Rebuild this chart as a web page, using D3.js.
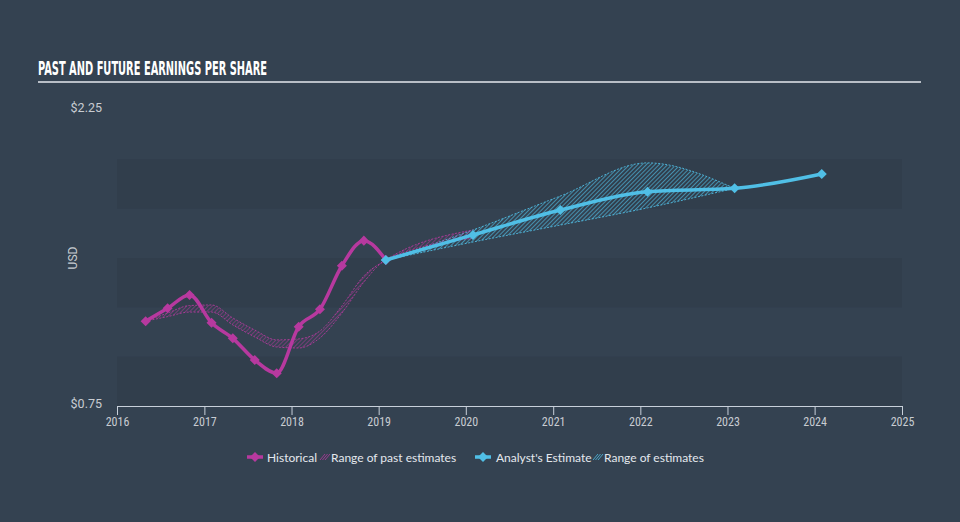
<!DOCTYPE html>
<html><head><meta charset="utf-8">
<script src="https://cdn.jsdelivr.net/npm/d3@7/dist/d3.min.js"></script>
<style>
html,body{margin:0;padding:0;background:#344251;}
svg{display:block;}
</style></head>
<body>
<svg id="chart" width="960" height="522"></svg>
<script>
const histDates = ["2016-04-30","2016-07-31","2016-10-31","2017-01-31","2017-04-30","2017-07-31","2017-10-31","2018-01-31","2018-04-30","2018-07-31","2018-10-31","2019-01-31"];
const histValues = [1.18,1.245,1.313,1.172,1.093,0.983,0.916,1.152,1.240,1.461,1.588,1.490];

const pastRangeDates = ["2016-04-30","2016-07-31","2016-10-31","2017-01-31","2017-04-30","2017-07-31","2017-10-31","2018-01-31","2018-04-30","2018-07-31","2018-10-31","2019-01-31","2020-01-31"];
const pastRangeLow  = [1.18,1.203,1.226,1.226,1.161,1.100,1.049,1.044,1.095,1.221,1.378,1.490,1.600];
const pastRangeHigh = [1.18,1.221,1.259,1.262,1.196,1.135,1.085,1.090,1.130,1.257,1.409,1.490,1.642];

const estDates = ["2019-01-31","2020-01-31","2021-01-31","2022-01-31","2023-01-31","2024-01-31"];
const estValues = [1.490,1.617,1.743,1.836,1.853,1.926];

const estRangeDates = ["2019-01-31","2020-01-31","2021-01-31","2022-01-31","2023-01-31"];
const estRangeLow  = [1.490,1.581,1.667,1.754,1.853];
const estRangeHigh = [1.490,1.642,1.814,1.982,1.853];

const yTicks = [0.75, 2.25];
const xTickYears = [2016,2017,2018,2019,2020,2021,2022,2023,2024,2025];
const bandRanges = [[0.75,1.0],[1.25,1.5],[1.75,2.0]];

const PINK = "#b7399f", BLUE = "#50bfe6";
const parse = d3.timeParse("%Y-%m-%d");
const svg = d3.select("#chart");

const x = d3.scaleTime().domain([new Date(2016,0,1), new Date(2025,0,1)]).range([117, 902]);
const y = d3.scaleLinear().domain([0.75, 2.25]).range([406, 110]);

// background
svg.append("rect").attr("width",960).attr("height",522).attr("fill","#344251");

const defs = svg.append("defs");
function hatch(id, color, w){
  const p = defs.append("pattern").attr("id",id).attr("patternUnits","userSpaceOnUse")
    .attr("width",3).attr("height",3).attr("patternTransform","rotate(45)");
  p.append("line").attr("x1",0).attr("y1",0).attr("x2",0).attr("y2",3)
    .attr("stroke",color).attr("stroke-width",w);
}
hatch("hatchPink", PINK, 1.1);
hatch("hatchBlue", BLUE, 1.4);

// bands
svg.append("g").selectAll("rect").data(bandRanges).join("rect")
  .attr("x", x.range()[0]).attr("width", x.range()[1]-x.range()[0])
  .attr("y", d=>y(d[1])).attr("height", d=>y(d[0])-y(d[1]))
  .attr("fill","#2e3a48").attr("opacity",0.5);

// title
svg.append("text").attr("x",38).attr("y",75).text("PAST AND FUTURE EARNINGS PER SHARE")
  .attr("font-family","'Liberation Sans Narrow','DejaVu Sans Condensed',sans-serif")
  .attr("font-weight","bold").attr("font-size",19).attr("fill","#ffffff")
  .attr("textLength",229).attr("lengthAdjust","spacingAndGlyphs");
svg.append("line").attr("x1",38).attr("x2",921).attr("y1",82).attr("y2",82)
  .attr("stroke","#b8bec6").attr("stroke-width",2);

// y labels
svg.append("g").selectAll("text").data(yTicks).join("text")
  .attr("x",102).attr("y",d=>y(d)+1).attr("text-anchor","end")
  .attr("font-family","Roboto, sans-serif").attr("font-size",12.5).attr("fill","#c8ccd2")
  .text(d=>"$"+d.toFixed(2)).attr("dy","0.1em");
svg.append("text").attr("transform","translate(77,258) rotate(-90)").attr("text-anchor","middle")
  .attr("font-family","Roboto, sans-serif").attr("font-size",12).attr("fill","#c8ccd2").text("USD");

// x axis
const xAxis = d3.axisBottom(x).tickValues(xTickYears.map(yr=>new Date(yr,0,1)))
  .tickFormat(d3.timeFormat("%Y")).tickSize(9).tickPadding(2);
const gx = svg.append("g").attr("transform","translate(0,406)").call(xAxis);
gx.select(".domain").attr("stroke","#c8d0da").attr("stroke-width",1);
gx.selectAll(".tick line").attr("stroke","#c8d0da");
gx.selectAll(".tick text").attr("fill","#c8ccd2").attr("font-size",12)
  .attr("font-family","'Roboto Condensed','Liberation Sans Narrow',Roboto,sans-serif");

const curve = d3.curveMonotoneX;
function rangeData(dates, lo, hi){ return dates.map((d,i)=>({d:parse(d), lo:lo[i], hi:hi[i]})); }
const pastR = rangeData(pastRangeDates, pastRangeLow, pastRangeHigh);
const estR = rangeData(estRangeDates, estRangeLow, estRangeHigh);

const area = d3.area().x(d=>x(d.d)).y0(d=>y(d.lo)).y1(d=>y(d.hi)).curve(curve);
const lineLo = d3.line().x(d=>x(d.d)).y(d=>y(d.lo)).curve(curve);
const lineHi = d3.line().x(d=>x(d.d)).y(d=>y(d.hi)).curve(curve);

function drawRange(data, fillId, color){
  svg.append("path").datum(data).attr("d",area).attr("fill",`url(#${fillId})`).attr("opacity",0.9);
  [lineLo,lineHi].forEach(l=>svg.append("path").datum(data).attr("d",l).attr("fill","none")
    .attr("stroke",color).attr("stroke-width",1).attr("stroke-dasharray","2,1.5").attr("opacity",0.85));
}
drawRange(estR, "hatchBlue", BLUE);
drawRange(pastR, "hatchPink", PINK);

const line = d3.line().x(d=>x(d.d)).y(d=>y(d.v)).curve(curve);
const hist = histDates.map((d,i)=>({d:parse(d), v:histValues[i]}));
const est = estDates.map((d,i)=>({d:parse(d), v:estValues[i]}));

const diamond = d3.symbol().type(d3.symbolDiamond2).size(64);
function drawSeries(data, color){
  svg.append("path").datum(data).attr("d",line).attr("fill","none")
    .attr("stroke",color).attr("stroke-width",3.5).attr("stroke-linejoin","round");
  svg.append("g").selectAll("path").data(data).join("path")
    .attr("transform",d=>`translate(${x(d.d)},${y(d.v)})`).attr("d",diamond).attr("fill",color);
}
drawSeries(hist, PINK);
drawSeries(est, BLUE);

// legend
const lg = svg.append("g").attr("font-family","Lato, 'Open Sans', sans-serif").attr("font-size",12).attr("fill","#e4e8ee");
function legendIcon(cx, color){
  lg.append("line").attr("x1",cx-8).attr("x2",cx+8).attr("y1",457).attr("y2",457).attr("stroke",color).attr("stroke-width",3.5);
  lg.append("path").attr("transform",`translate(${cx},457)`).attr("d",diamond).attr("fill",color);
}
function legendHatch(x0, color){
  for(let k=0;k<3;k++) lg.append("line").attr("x1",x0+k*2.5).attr("y1",460).attr("x2",x0+k*2.5+5).attr("y2",454)
    .attr("stroke",color).attr("stroke-width",1).attr("opacity",0.8);
}
legendIcon(255, PINK);
lg.append("text").attr("x",267).attr("y",461.5).text("Historical");
legendHatch(320, PINK);
lg.append("text").attr("x",331).attr("y",461.5).text("Range of past estimates");
legendIcon(483, BLUE);
lg.append("text").attr("x",496).attr("y",461.5).text("Analyst's Estimate");
legendHatch(593, BLUE);
lg.append("text").attr("x",604).attr("y",461.5).text("Range of estimates");
</script>
</body></html>
